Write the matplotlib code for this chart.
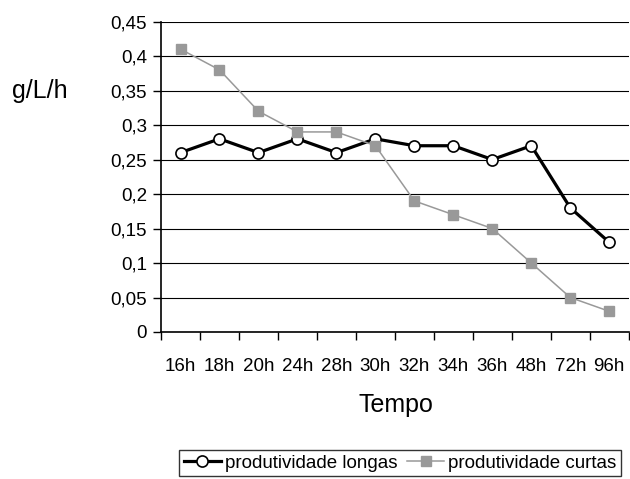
import numpy as np
import matplotlib.pyplot as plt
from matplotlib.ticker import FixedLocator

plt.rcParams['font.family'] = ['Liberation Sans', 'DejaVu Sans']

tempos = ['16h', '18h', '20h', '24h', '28h', '30h', '32h', '34h', '36h', '48h', '72h', '96h']
longas = [0.26, 0.28, 0.26, 0.28, 0.26, 0.28, 0.27, 0.27, 0.25, 0.27, 0.18, 0.13]
curtas = [0.41, 0.38, 0.32, 0.29, 0.29, 0.27, 0.19, 0.17, 0.15, 0.10, 0.05, 0.03]
yticks = [0, 0.05, 0.1, 0.15, 0.2, 0.25, 0.3, 0.35, 0.4, 0.45]
ytick_labels = ['0', '0,05', '0,1', '0,15', '0,2', '0,25', '0,3', '0,35', '0,4', '0,45']

fig = plt.figure(figsize=(6.3, 4.79), dpi=100)
ax = fig.add_axes([0.2556, 0.3069, 0.7424, 0.6481])

x = np.arange(len(tempos))
ax.plot(x, longas, color='black', lw=2.3, marker='o', ms=8,
        mfc='white', mec='black', mew=1.2, label='produtividade longas', zorder=3)
ax.plot(x, curtas, color='#999999', lw=1.1, marker='s', ms=7.5,
        mfc='#999999', mec='#999999', label='produtividade curtas', zorder=4)

ax.set_xlim(-0.5, len(tempos) - 0.5)
ax.set_ylim(0, 0.45)
ax.set_yticks(yticks)
ax.set_yticklabels(ytick_labels, fontsize=13.5)
ax.set_xticks(x)
ax.set_xticklabels(tempos, fontsize=13.5)
ax.tick_params(axis='x', which='major', length=0, pad=19)
ax.xaxis.set_minor_locator(FixedLocator(np.arange(-0.5, len(tempos), 1)))
ax.tick_params(axis='x', which='minor', length=6, width=1, direction='out')
ax.tick_params(axis='y', length=6, width=1, direction='out', pad=4)
ax.yaxis.grid(True, color='black', lw=0.8)
ax.set_axisbelow(True)
for s in ['top', 'right']:
    ax.spines[s].set_visible(False)
ax.spines['left'].set_linewidth(1.2)
ax.spines['bottom'].set_linewidth(1.2)

fig.text(0.6277, 0.154, 'Tempo', fontsize=18, va='center', ha='center')
fig.text(0.019, 0.81, 'g/L/h', fontsize=18, va='center', ha='left')

leg = fig.legend(loc='upper center', bbox_to_anchor=(0.635, 0.061),
                 ncol=2, fontsize=13.5, frameon=True, fancybox=False,
                 edgecolor='black', handlelength=2.0, handletextpad=0.2,
                 columnspacing=0.5, borderpad=0.25, borderaxespad=0)
leg.get_frame().set_linewidth(1.0)

fig.savefig('out.png', dpi=100)
